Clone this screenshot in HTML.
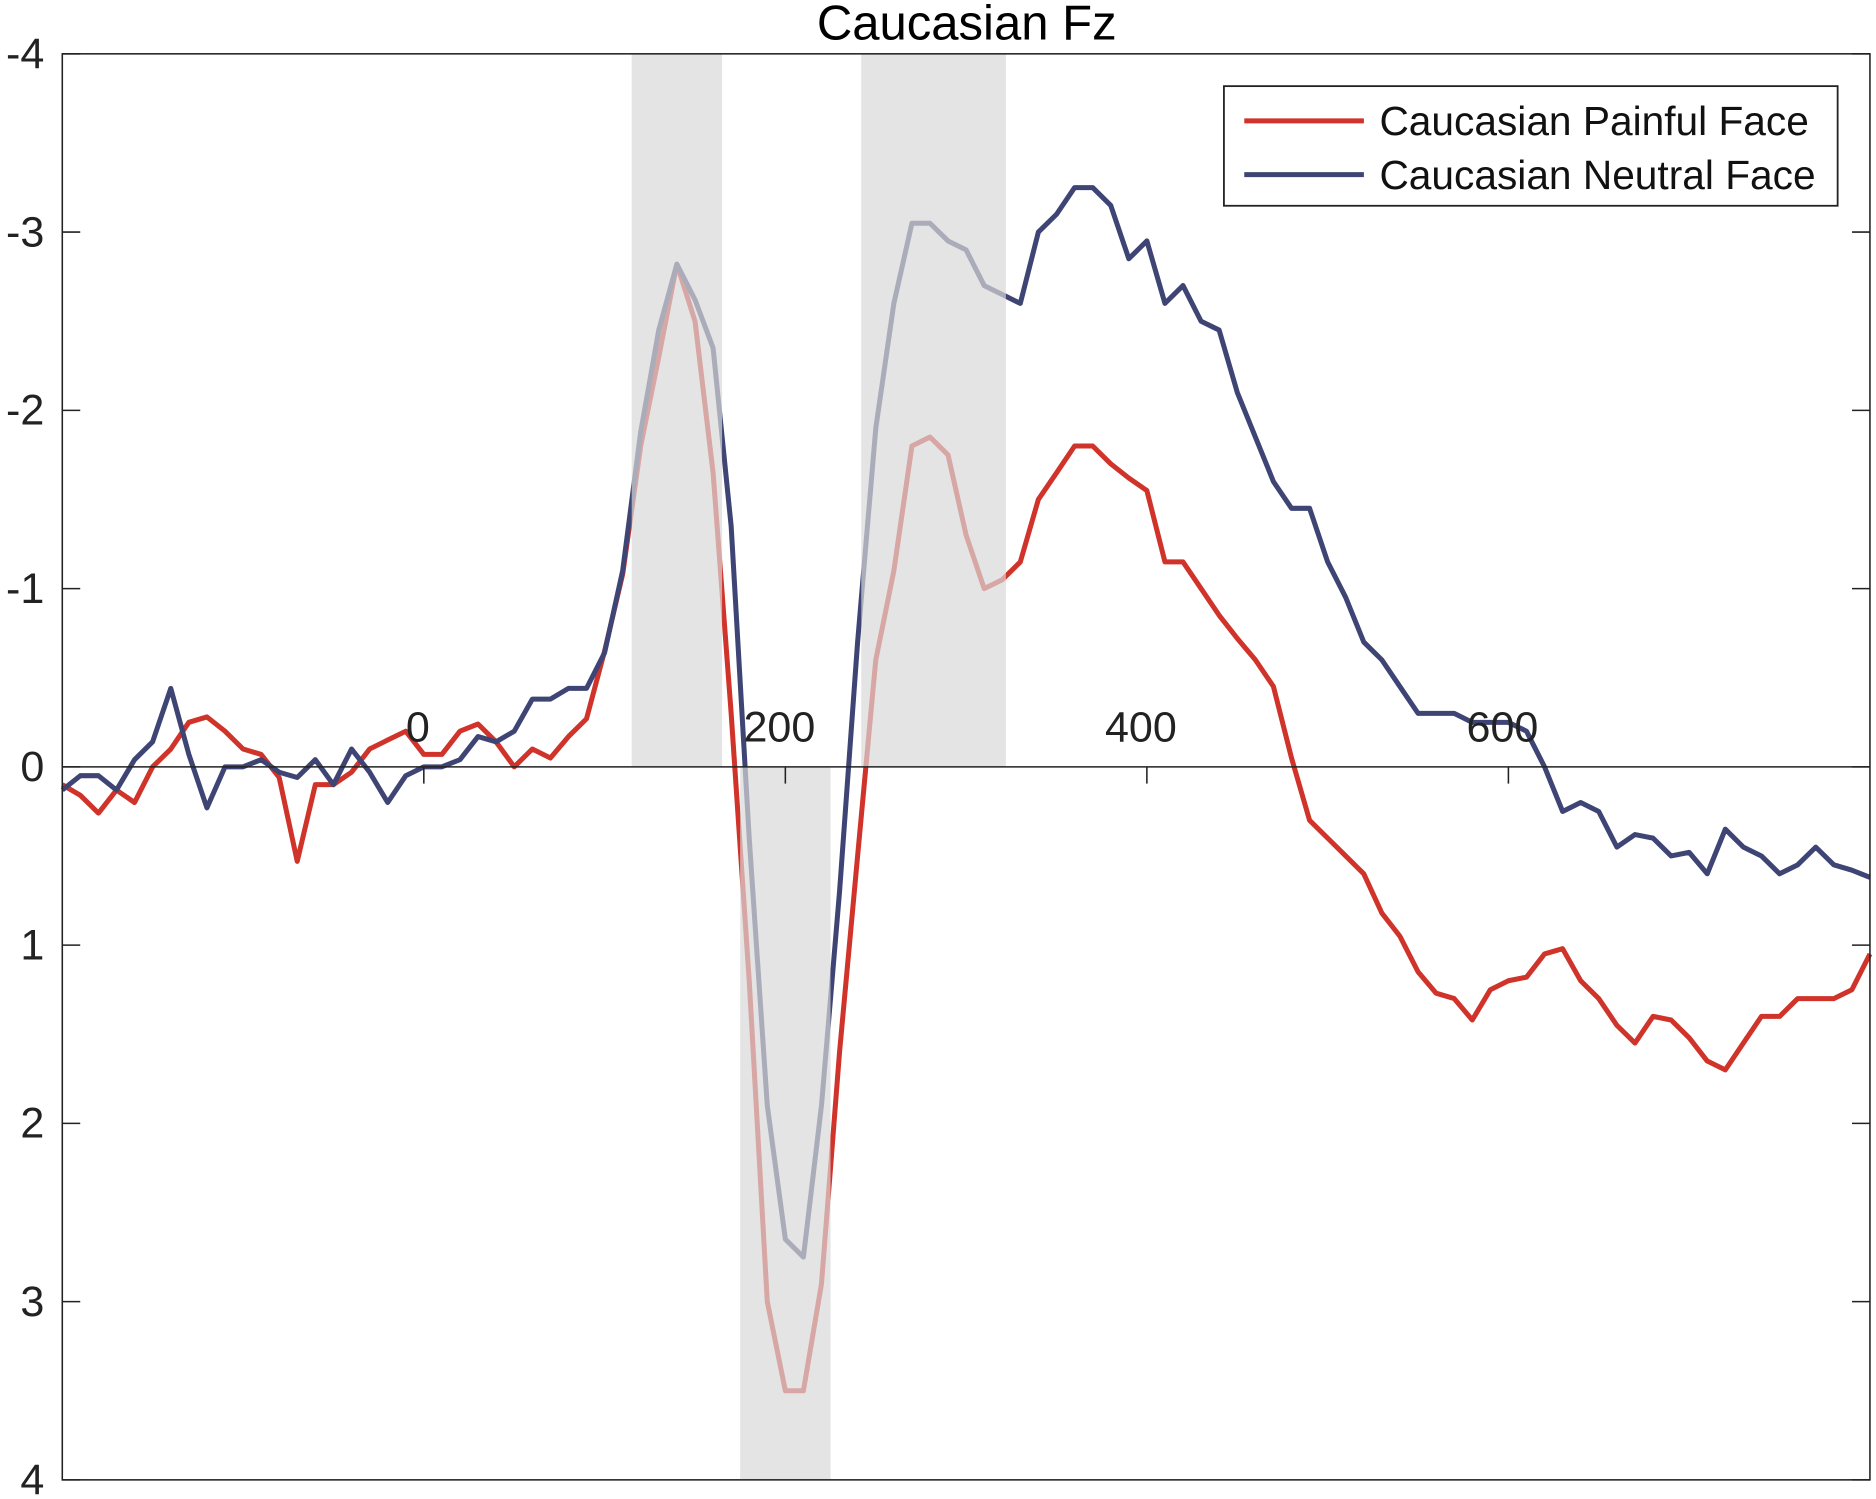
<!DOCTYPE html>
<html><head><meta charset="utf-8"><style>
html,body{margin:0;padding:0;background:#fff;}
svg{display:block;font-family:"Liberation Sans",Arial,sans-serif;}
</style></head><body>
<svg id="chart" width="1876" height="1499" viewBox="0 0 1568 1253" xmlns="http://www.w3.org/2000/svg">
<g id="lines"></g>
<g id="shade"></g>
<g id="axes"></g>
<text x="808" y="33" text-anchor="middle" font-size="41" fill="#000">Caucasian Fz</text>
<g>
<rect x="1023" y="72" width="513" height="100" fill="#fff" stroke="#222" stroke-width="1.5"/>
<line x1="1040" y1="101" x2="1140" y2="101" stroke="#d0332a" stroke-width="4.2"/>
<text x="1153" y="113" font-size="34" fill="#111">Caucasian Painful Face</text>
<line x1="1040" y1="146" x2="1140" y2="146" stroke="#3e4574" stroke-width="4.2"/>
<text x="1153" y="158" font-size="34" fill="#111">Caucasian Neutral Face</text>
</g>
</svg>
<script>
const tStart = -200, tStep = 10;
const painful = [0.1,0.16,0.26,0.13,0.2,0,-0.1,-0.25,-0.28,-0.2,-0.1,-0.07,0.06,0.53,0.1,0.1,0.03,-0.1,-0.15,-0.2,
-0.07,-0.07,-0.2,-0.24,-0.14,0,-0.1,-0.05,-0.17,-0.27,
-0.65,-1.08,-1.8,-2.3,-2.82,-2.5,-1.65,
-0.3,1.2,3.0,3.5,3.5,2.9,1.6,0.5,-0.6,-1.1,
-1.8,-1.85,-1.75,-1.3,-1.0,-1.05,-1.15,-1.5,-1.65,-1.8,
-1.8,-1.7,-1.62,-1.55,-1.15,-1.15,-1.0,-0.85,-0.72,-0.6,
-0.45,-0.05,0.3,0.4,0.5,0.6,0.82,0.95,1.15,1.27,
1.3,1.42,1.25,1.2,1.18,1.05,1.02,1.2,1.3,1.45,
1.55,1.4,1.42,1.52,1.65,1.7,1.55,1.4,1.4,1.3,
1.3,1.3,1.25,1.05];
const neutral = [0.13,0.05,0.05,0.13,-0.04,-0.14,-0.44,-0.07,0.23,0,0,-0.04,0.03,0.06,-0.04,0.1,-0.1,0.03,0.2,0.05,
0,0,-0.04,-0.17,-0.14,-0.2,-0.38,-0.38,-0.44,-0.44,
-0.64,-1.1,-1.88,-2.45,-2.82,-2.62,-2.35,
-1.35,0.4,1.9,2.65,2.75,1.9,0.7,-0.7,-1.9,-2.6,
-3.05,-3.05,-2.95,-2.9,-2.7,-2.65,-2.6,-3.0,-3.1,-3.25,
-3.25,-3.15,-2.85,-2.95,-2.6,-2.7,-2.5,-2.45,-2.1,-1.85,
-1.6,-1.45,-1.45,-1.15,-0.95,-0.7,-0.6,-0.45,-0.3,-0.3,
-0.3,-0.25,-0.25,-0.25,-0.2,0.0,0.25,0.2,0.25,0.45,
0.38,0.4,0.5,0.48,0.6,0.35,0.45,0.5,0.6,0.55,
0.45,0.55,0.58,0.62];
const xTicks = [0,200,400,600];
const yTicks = [-4,-3,-2,-1,0,1,2,3,4];
const windowsUp = [[115,165],[242,322]];
const windowsDown = [[175,225]];

const L=52,R=1563,T=45,B=1237;
const xS = t => L + (t+200)/1000*(R-L);
const yS = v => T + (v+4)/8*(B-T);
const NS="http://www.w3.org/2000/svg";
function mk(tag, attrs, parent){const e=document.createElementNS(NS,tag);for(const k in attrs)e.setAttribute(k,attrs[k]);parent.appendChild(e);return e;}

const lines=document.getElementById('lines');
function drawSeries(arr,color,name){
  const pts=arr.map((v,i)=>xS(tStart+i*tStep).toFixed(1)+','+yS(v).toFixed(1)).join(' ');
  const p=mk('polyline',{points:pts,fill:'none',stroke:color,'stroke-width':4.2,'stroke-linejoin':'round'},lines);
  
  
}
drawSeries(painful,'#d0332a','painful-face-line');
drawSeries(neutral,'#3e4574','neutral-face-line');

const shade=document.getElementById('shade');
windowsUp.forEach(w=>{
  const r=mk('rect',{x:xS(w[0]),y:T,width:xS(w[1])-xS(w[0]),height:yS(0)-T,fill:'#d9d9d9','fill-opacity':0.7},shade);
  
  
});
windowsDown.forEach(w=>{
  const r=mk('rect',{x:xS(w[0]),y:yS(0),width:xS(w[1])-xS(w[0]),height:B-yS(0),fill:'#d9d9d9','fill-opacity':0.7},shade);
  
  
});

const axes=document.getElementById('axes');
const box=mk('rect',{x:L,y:T,width:R-L,height:B-T,fill:'none',stroke:'#222','stroke-width':1.3},axes);


const xa=mk('line',{x1:L,y1:yS(0),x2:R,y2:yS(0),stroke:'#222','stroke-width':1.3},axes);


xTicks.forEach(t=>{
  const tk=mk('line',{x1:xS(t),y1:yS(0),x2:xS(t),y2:yS(0)+14,stroke:'#222','stroke-width':1.3},axes);
  
  
  const tx=mk('text',{x:xS(t)-5,y:yS(0)-21,'text-anchor':'middle','font-size':36,fill:'#222'},axes);
  tx.textContent=t;
  
  
});
yTicks.forEach(v=>{
  const y=yS(v);
  const a=mk('line',{x1:L,y1:y,x2:L+15,y2:y,stroke:'#222','stroke-width':1.3},axes);
  
  
  const b=mk('line',{x1:R-15,y1:y,x2:R,y2:y,stroke:'#222','stroke-width':1.3},axes);
  
  
  const tx=mk('text',{x:37,y:y+12,'text-anchor':'end','font-size':36,fill:'#222'},axes);
  tx.textContent=v;
  
  
});
</script>
</body></html>
